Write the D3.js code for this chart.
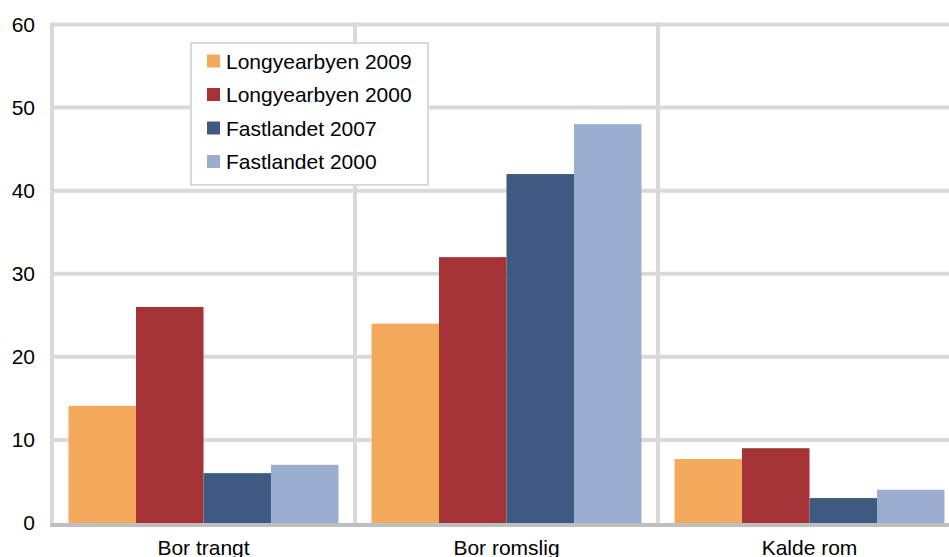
<!DOCTYPE html>
<html><head><meta charset="utf-8">
<script src="https://cdn.jsdelivr.net/npm/d3@7"></script>
<style>body{margin:0;background:#fff;} svg{display:block;font-family:"Liberation Sans",Arial,sans-serif;}</style>
</head><body><svg id="c" width="949" height="557"></svg>
<script>
const categories = ["Bor trangt", "Bor romslig", "Kalde rom"];
const seriesNames = ["Longyearbyen 2009", "Longyearbyen 2000", "Fastlandet 2007", "Fastlandet 2000"];
const longyearbyen2009 = [14.1, 24, 7.7];
const longyearbyen2000 = [26, 32, 9];
const fastlandet2007 = [6, 42, 3];
const fastlandet2000 = [7, 48, 4];
const yTicks = [0, 10, 20, 30, 40, 50, 60];
const colors = ["#f5a95c", "#a53234", "#3e5a82", "#9aaecf"];

const seriesValues = [longyearbyen2009, longyearbyen2000, fastlandet2007, fastlandet2000];
const svg = d3.select("#c");
const pLeft = 52, pRight = 961, pTop = 24.5, pBottom = 523;
const FS = 21;
const x0 = d3.scaleBand().domain(categories).range([pLeft, pRight]).paddingInner(0).paddingOuter(0);
const x1 = d3.scaleBand().domain(seriesNames).range([0, x0.bandwidth()]).paddingInner(0).paddingOuter(0.245);
const y = d3.scaleLinear().domain([0, 60]).range([pBottom, pTop]);

const grid = svg.append("g");
yTicks.filter(t => t > 0).forEach(t => {
  grid.append("line").attr("x1", pLeft).attr("x2", pRight).attr("y1", y(t)).attr("y2", y(t))
    .attr("stroke", "#d9d9d9").attr("stroke-width", 4);
});
categories.forEach((c, i) => {
  grid.append("line").attr("x1", x0(c)).attr("x2", x0(c)).attr("y1", y(60)-2).attr("y2", pBottom)
    .attr("stroke", "#d9d9d9").attr("stroke-width", 4);
});

// bars
categories.forEach((c, ci) => {
  seriesNames.forEach((s, si) => {
    const v = seriesValues[si][ci];
    svg.append("rect").attr("x", x0(c) + x1(s)).attr("width", x1.bandwidth())
      .attr("y", y(v)).attr("height", pBottom - y(v)).attr("fill", colors[si]);
  });
});

// baseline
svg.append("line").attr("x1", pLeft - 2).attr("x2", pRight).attr("y1", pBottom + 2).attr("y2", pBottom + 2)
  .attr("stroke", "#bfbfbf").attr("stroke-width", 4);

// y axis labels
const yAxis = d3.axisLeft(y).tickValues(yTicks).tickSize(0).tickPadding(17);
const ya = svg.append("g").attr("transform", `translate(${pLeft},0)`).call(yAxis);
ya.select(".domain").remove();
ya.selectAll("text").attr("font-size", FS).attr("fill", "#000").attr("font-family", "Liberation Sans, Arial, sans-serif");

// x axis labels
const xAxis = d3.axisBottom(x0).tickSize(0).tickPadding(0);
const xa = svg.append("g").attr("transform", `translate(0,${pBottom})`).call(xAxis);
xa.select(".domain").remove();
xa.selectAll("text").attr("dy", null).attr("y", 32).attr("font-size", FS).attr("fill", "#000")
  .attr("font-family", "Liberation Sans, Arial, sans-serif");

// legend
const lg = svg.append("g");
lg.append("rect").attr("x", 191).attr("y", 43).attr("width", 237).attr("height", 142)
  .attr("fill", "#fff").attr("stroke", "#d9d9d9").attr("stroke-width", 2);
seriesNames.forEach((s, i) => {
  const cy = 61 + i * 33.5;
  lg.append("rect").attr("x", 207).attr("y", cy - 6.5).attr("width", 13).attr("height", 13).attr("fill", colors[i]);
  lg.append("text").attr("x", 226).attr("y", cy + 7.5).attr("font-size", FS).attr("fill", "#000").text(s);
});
</script></body></html>
